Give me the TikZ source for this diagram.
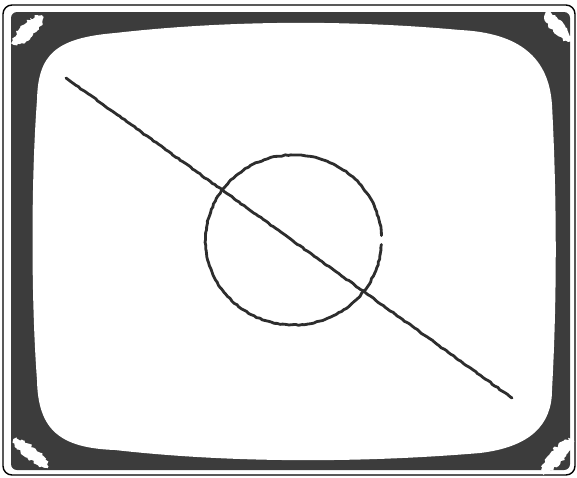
\documentclass[tikz,border=0pt]{standalone}
\usetikzlibrary{decorations.pathmorphing}
\definecolor{framegray}{RGB}{60,60,60}
\definecolor{tracegray}{RGB}{45,45,45}

\begin{document}
\begin{tikzpicture}[x=1pt, y=-1pt,
    bezel/.style={fill=framegray},
    screen/.style={fill=white},
    glare/.style={fill=white, decorate, decoration={random steps, segment length=2pt, amplitude=1.5pt}},
    trace/.style={draw=tracegray, line width=2.8pt, line cap=round, line join=round,
        decorate, decoration={random steps, segment length=3pt, amplitude=0.5pt}}]

    \pgfmathsetseed{7}
    \useasboundingbox (0,0) rectangle (577,477);

    % outer edge of the set
    \draw[line width=1.4pt, rounded corners=9pt] (3,5) rectangle (575,475);

    % dark bezel
    \fill[bezel, rounded corners=6pt] (11,12) rectangle (570,470);

    % screen
    \fill[screen] (37,100) .. controls (38,55) and (55,38) .. (115,33)
        .. controls (230,20) and (350,20) .. (460,30)
        .. controls (520,33) and (549,58) .. (552,105)
        .. controls (557,200) and (557,300) .. (552,390)
        .. controls (552,425) and (530,447) .. (480,453)
        .. controls (360,463) and (230,463) .. (115,450)
        .. controls (60,448) and (38,430) .. (37,380)
        .. controls (31,300) and (31,180) .. (37,100) -- cycle;

    % glare in the corners
    \fill[glare, rotate around={45:(28,30)}] (28,30) ellipse (20 and 7);
    \fill[glare, rotate around={131:(558,27)}] (558,27) ellipse (19 and 6.5);
    \fill[glare, rotate around={-39:(31,453)}] (31,453) ellipse (22 and 6);
    \fill[glare, rotate around={48:(557,456)}] (557,456) ellipse (22 and 7);

    % line
    \coordinate (start) at (66,78);
    \coordinate (stop) at (512,398);
    \draw[trace] (start) -- (stop);

    % circle
    \coordinate (centre) at (293.5,240);
    \draw[trace] ([shift={(3:88 and 85)}]centre) arc[start angle=3, end angle=357, x radius=88, y radius=85];
\end{tikzpicture}
\end{document}
